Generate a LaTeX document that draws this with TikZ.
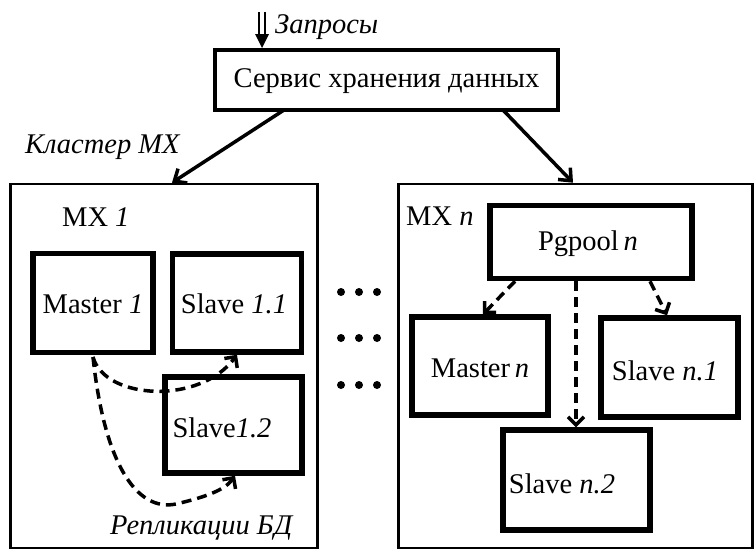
\documentclass[tikz,border=0pt]{standalone}
\usepackage{fontspec}
\setmainfont{Liberation Serif}
\usetikzlibrary{arrows.meta}
\begin{document}
\begin{tikzpicture}[x=1pt,y=-1pt,
  txt/.style={font=\fontsize{28.5}{33}\selectfont, inner sep=0pt},
  bigbox/.style={draw, line width=2.6pt},
  inbox/.style={draw, line width=5.5pt, inner sep=0pt},
  solidarr/.style={line width=3.5pt, -{Straight Barb[length=10pt,width=17pt,line width=3.5pt]}},
  dasharr/.style={line width=3.5pt, dash pattern=on 10pt off 6pt, -{Straight Barb[length=8pt,width=16pt,line width=3.5pt]}},
  dotmark/.style={circle, fill, inner sep=0pt, minimum size=8pt}
]
\useasboundingbox (0,0) rectangle (755,555);

% top service box
\node[draw, line width=4pt, minimum width=343pt, minimum height=60pt, inner sep=0pt] (svc) at (386.5,80) {};
\node[txt] (svct) at (386.5,81) {Сервис хранения данных};

% requests arrow
\coordinate (qtop) at (262,12);
\coordinate (qmid) at (262,35);
\draw[line width=2pt, double, double distance=3.5pt] (qtop) -- (qmid);
\fill (255,34) -- (269,34) -- (svc.north -| qtop) -- cycle;
\node[txt, anchor=west] (qlab) at (275,27) {\itshape Запросы};

% cluster boxes
\node[bigbox, minimum width=307pt, minimum height=364pt, inner sep=0pt] (c1) at (164,366) {};
\node[bigbox, minimum width=354pt, minimum height=364pt, inner sep=0pt] (cn) at (575.5,366) {};

\node[txt, anchor=west] (klab) at (25,147) {\itshape Кластер МХ};

\coordinate (s1) at (284,110);
\coordinate (s2) at (503,110);
\draw[solidarr] (s1) -- (c1.north -| 172,0);
\draw[solidarr] (s2) -- (cn.north -| 573,0);

% MX 1
\node[txt, anchor=west] (mx1) at (62,217) {МХ \textit{1}};
\node[inbox, minimum width=120pt, minimum height=99pt] (m1) at (93,303) {};
\node[txt] (m1t) at (93,304) {Master \textit{1}};
\node[inbox, minimum width=129pt, minimum height=98pt] (s11) at (237,303) {};
\node[txt] (s11t) at (234,304) {Slave \textit{1.1}};
\node[inbox, minimum width=137pt, minimum height=96pt] (s12) at (233.5,425) {};
\node[txt] (s12t) at (222,428) {Slave\textit{1.2}};
\node[txt, anchor=west] (repl) at (110,528) {\itshape Репликации БД};

\coordinate (mstart) at (93,357);
\draw[dasharr] (mstart) .. controls (105,400) and (200,405) .. (s11.south -| 237,0);
\draw[dasharr] (mstart) .. controls (105,470) and (140,515) .. (180,503) .. controls (205,497) and (225,490) .. (s12.south -| 235,0);

% dots
\foreach \yy [count=\i] in {292,338,385}{
  \foreach \xx [count=\j] in {341,359,377}{
    \node[dotmark] (d\i\j) at (\xx,\yy) {};
  }
}

% MX n
\node[txt, anchor=west] (mxn) at (406,216) {МХ \textit{n}};
\node[inbox, minimum width=202pt, minimum height=73pt] (pg) at (591,242) {};
\node[txt] (pgt) at (588,244) {Pgpool\,\textit{n}};
\node[inbox, minimum width=136pt, minimum height=98pt] (mn) at (480,366) {};
\node[txt] (mnt) at (480,368) {Master\,\textit{n}};
\node[inbox, minimum width=137pt, minimum height=99pt] (sn1) at (669.5,367.5) {};
\node[txt] (sn1t) at (665,371) {Slave \textit{n.1}};
\node[inbox, minimum width=147pt, minimum height=100pt] (sn2) at (576.5,480) {};
\node[txt] (sn2t) at (562,484) {Slave \textit{n.2}};

\draw[dasharr] (pg.south -| 515,0) -- (mn.north -| 483,0);
\draw[dasharr] (pg.south -| 576,0) -- (sn2.north -| 576,0);
\draw[dasharr] (pg.south -| 650,0) -- (sn1.north -| 667,0);
\end{tikzpicture}
\end{document}
